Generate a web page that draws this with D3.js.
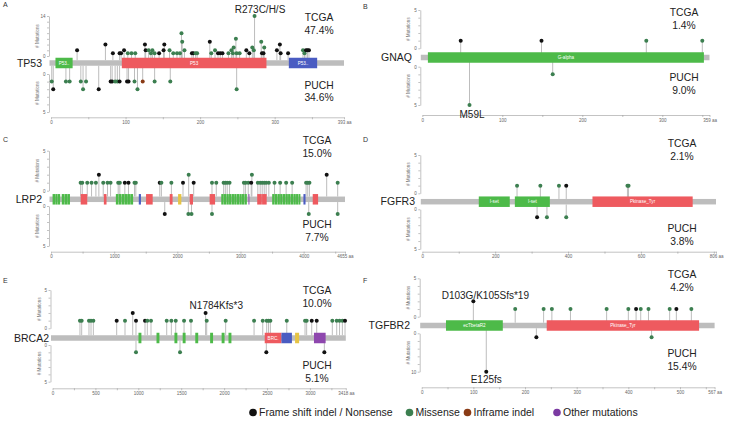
<!DOCTYPE html>
<html><head><meta charset="utf-8">
<script src="https://cdn.jsdelivr.net/npm/d3@7"></script>
<style>body{margin:0;background:#fff;} svg{display:block;font-family:"Liberation Sans",Arial,sans-serif;}</style>
</head><body><svg id="c" width="729" height="424"></svg>
<script>
// ---------------- DATA ----------------
const genes = ["TP53","GNAQ","LRP2","FGFR3","BRCA2","TGFBR2"];
const panelLetters = ["A","B","C","D","E","F"];
const proteinLengths = [393,359,4655,806,3418,567];
const tcgaPct = ["47.4%","1.4%","15.0%","2.1%","10.0%","4.2%"];
const puchPct = ["34.6%","9.0%","7.7%","3.8%","5.1%","15.4%"];
const topMax = [14,5,5,5,5,5];
const botMax = [5,5,5,5,5,10];
const xMajorStep = [100,100,1000,200,500,100];
const xMinorStep = [50,50,500,100,250,50];
const legendItems = ["Frame shift indel / Nonsense","Missense","Inframe indel","Other mutations"];
const legendTypes = ["T","M","I","O"];

// mutations: [position, count, type]  T=truncating, M=missense, I=inframe, O=other
const tp53Tcga = [[35,2,"T"],[73,4,"T"],[83,1,"T"],[92,1,"T"],[94,1,"T"],[98,2,"T"],[103,1,"M"],[108,1,"M"],[113,1,"M"],
 [126,4,"T"],[127,2,"T"],[131,2,"M"],[134,1,"M"],[136,2,"M"],[139,1,"M"],[145,1,"T"],[152,4,"T"],[151,2,"T"],[159,2,"M"],
 [164,1,"M"],[169,1,"M"],[173,1,"M"],[175,8,"M"],[176,5,"M"],[179,2,"M"],[189,1,"T"],[191,1,"T"],[194,1,"M"],[196,1,"M"],
 [213,5,"T"],[215,1,"M"],[220,2,"M"],[224,1,"T"],[227,1,"T"],[230,1,"T"],[238,1,"M"],[242,2,"M"],[244,1,"M"],[245,3,"M"],
 [248,6,"M"],[249,1,"M"],[253,1,"M"],[262,2,"T"],[266,1,"T"],[270,3,"M"],[272,2,"M"],[273,14,"M"],[282,5,"M"],[283,1,"T"],
 [285,1,"T"],[286,3,"M"],[303,2,"T"],[307,4,"T"],[308,1,"T"],[318,1,"T"],[338,2,"M"],[340,1,"M"],[342,2,"T"],[344,2,"T"],[346,2,"T"]];
const tp53Puch = [[1,1,"M"],[3,2,"T"],[20,1,"M"],[25,1,"M"],[40,1,"M"],[43,2,"M"],[47,1,"M"],[64,2,"T"],[80,1,"T"],[82,1,"T"],
 [86,1,"M"],[89,1,"M"],[92,1,"T"],[102,1,"T"],[104,1,"T"],[112,1,"M"],[116,2,"M"],[123,1,"I"],[139,1,"M"],[160,1,"M"],[249,2,"M"]];
const gnaqTcga = [[48,1,"T"],[149,1,"T"],[280,1,"M"],[350,1,"M"]];
const gnaqPuch = [[59,5,"M"],[163,1,"M"]];
const lrp2Tcga = [[469,1,"M"],[495,1,"M"],[574,1,"M"],[642,1,"M"],[711,1,"M"],[758,2,"T"],[827,1,"M"],[895,1,"M"],[943,1,"M"],
 [1064,1,"M"],[1090,1,"M"],[1169,1,"T"],[1227,1,"T"],[1322,1,"M"],[1343,1,"M"],[1722,1,"T"],[1748,1,"M"],[1906,1,"M"],
 [2090,1,"T"],[2180,2,"M"],[2259,1,"T"],[2549,1,"M"],[2617,1,"M"],[2733,1,"M"],[2760,1,"M"],[2790,1,"M"],[2827,1,"M"],
 [3054,1,"M"],[3081,1,"M"],[3123,1,"M"],[3170,1,"T"],[3181,2,"M"],[3275,1,"M"],[3312,1,"M"],[3344,1,"M"],[3376,1,"M"],
 [3407,1,"M"],[3449,1,"M"],[3539,1,"M"],[3628,1,"M"],[3723,1,"M"],[3818,1,"M"],[4039,1,"M"],[4065,1,"M"],[4092,1,"M"],
 [4365,2,"T"],[4539,1,"M"]];
const lrp2Puch = [[1801,1,"T"],[2175,1,"M"],[2225,1,"M"],[2549,1,"M"],[4081,1,"M"],[4539,1,"M"]];
const fgfr3Tcga = [[260,1,"M"],[324,1,"M"],[375,1,"M"],[395,1,"T"],[563,1,"M"],[566,1,"M"]];
const fgfr3Puch = [[315,1,"T"],[342,1,"M"],[395,1,"M"]];
const brca2Tcga = [[320,1,"M"],[340,1,"M"],[425,1,"M"],[449,1,"M"],[476,1,"M"],[748,1,"T"],[845,1,"M"],[935,2,"T"],[973,1,"T"],
 [1078,1,"T"],[1105,1,"M"],[1148,1,"M"],[1331,1,"M"],[1385,1,"M"],[1436,1,"M"],[1533,1,"M"],[1614,1,"M"],[1784,2,"T"],
 [1797,1,"M"],[2018,1,"M"],[2349,1,"M"],[2450,1,"M"],[2496,1,"M"],[2517,1,"M"],[2539,1,"M"],[2730,1,"M"],[2943,1,"M"],
 [2962,1,"M"],[3021,1,"T"],[3079,1,"T"],[3261,1,"M"],[3312,1,"M"],[3345,1,"M"],[3378,1,"M"],[3409,1,"T"]];
const brca2Puch = [[973,1,"M"],[1486,1,"M"],[2492,1,"T"],[3168,1,"T"]];
const tgfbr2Tcga = [[100,2,"T"],[181,1,"M"],[236,1,"M"],[252,1,"M"],[288,1,"M"],[358,1,"M"],[400,1,"M"],[415,1,"T"],
 [424,1,"M"],[439,1,"M"],[480,1,"M"],[493,1,"T"],[522,1,"M"]];
const tgfbr2Puch = [[125,10,"T"],[222,1,"T"],[445,1,"M"]];

// domains: [start, end, colour key, label]
const tp53Domains = [[6,29,"g","P53.."],[95,289,"r","P53"],[319,357,"b","P53.."]];
const gnaqDomains = [[7,352,"g","G-alpha"]];
const lrp2Domains = [[25,65,"g",""],[68,105,"g",""],[108,145,"g",""],[170,210,"g",""],[213,255,"g",""],[258,300,"g",""],
 [470,574,"r",""],[837,879,"r",""],
 [1027,1068,"g",""],[1072,1113,"g",""],[1117,1158,"g",""],[1162,1203,"g",""],[1207,1250,"g",""],[1255,1300,"g",""],
 [1390,1424,"b",""],[1505,1610,"r",""],[1880,1925,"r",""],[2012,2064,"y",""],[2196,2248,"r",""],[2512,2598,"r",""],
 [2696,2733,"g",""],[2737,2774,"g",""],[2778,2815,"g",""],[2819,2856,"g",""],[2860,2897,"g",""],[2901,2938,"g",""],
 [2942,2979,"g",""],[2983,3020,"g",""],[3024,3061,"g",""],[3065,3101,"g",""],
 [3126,3142,"p",""],[3265,3338,"r",""],[3342,3415,"r",""],
 [3502,3540,"g",""],[3544,3582,"g",""],[3586,3624,"g",""],[3628,3666,"g",""],[3670,3708,"g",""],[3712,3750,"g",""],
 [3754,3792,"g",""],[3796,3834,"g",""],[3838,3876,"g",""],[3880,3918,"g",""],[3922,3949,"g",""],
 [3997,4030,"b",""],[4144,4229,"r",""]];
const fgfr3Domains = [[155,240,"g","I-set"],[254,350,"g","I-set"],[467,742,"r","Pkinase_Tyr"]];
const brca2Domains = [[1002,1036,"g",""],[1212,1246,"g",""],[1421,1455,"g",""],[1517,1551,"g",""],[1664,1698,"g",""],
 [1837,1871,"g",""],[1971,2005,"g",""],[2051,2085,"g",""],[2473,2668,"r","BRC."],[2668,2790,"b",""],[2827,2874,"y",""],[3047,3183,"p",""]];
const tgfbr2Domains = [[47,157,"g","ecTbetaR2"],[242,537,"r","Pkinase_Tyr"]];

// annotations: [panel, side, position, text]
const annotations = [[0,"top",273,"R273C/H/S"],[1,"bottom",59,"M59L"],[4,"top",1784,"N1784Kfs*3"],
 [5,"top",100,"D103G/K105Sfs*19"],[5,"bottom",125,"E125fs"]];

const tcgaSets = [tp53Tcga,gnaqTcga,lrp2Tcga,fgfr3Tcga,brca2Tcga,tgfbr2Tcga];
const puchSets = [tp53Puch,gnaqPuch,lrp2Puch,fgfr3Puch,brca2Puch,tgfbr2Puch];
const domainSets = [tp53Domains,gnaqDomains,lrp2Domains,fgfr3Domains,brca2Domains,tgfbr2Domains];

// ---------------- LAYOUT / STYLE ----------------
const layout = [
 {x0:51, x1:344, bb:63, t0:56, tM:16, b0:74, bM:112, axisY:117.3, geneX:42, lblX:319, tcgaY:21, puchY:88.5, lx:3, ly:7},
 {x0:422.3, x1:709.5, bb:57.5, t0:48.3, tM:10, b0:66.7, bM:105, axisY:115, geneX:412, lblX:684, tcgaY:16, puchY:81, lx:363, ly:8.5},
 {x0:51, x1:345, bb:199.3, t0:190.7, tM:150.7, b0:206, bM:246, axisY:251.7, geneX:42, lblX:317, tcgaY:144, puchY:228.3, lx:3, ly:142},
 {x0:422.3, x1:716, bb:201.7, t0:193.3, tM:155, b0:209.3, bM:249, axisY:251.7, geneX:415, lblX:682, tcgaY:146.7, puchY:231.7, lx:363, ly:142},
 {x0:52.5, x1:345.8, bb:338, t0:328.3, tM:290, b0:345, bM:381.7, axisY:388.3, geneX:49, lblX:317, tcgaY:294, puchY:369.3, lx:3, ly:283},
 {x0:421.7, x1:714.6, bb:325.5, t0:316.7, tM:278.3, b0:333.3, bM:371.7, axisY:387.3, geneX:410, lblX:682, tcgaY:278, puchY:356.7, lx:363, ly:283}
];
const annOffsets = [[5.5,-3.2],[2.5,13.3],[10.7,-3.7],[12,-2.4],[0,11]];
const domainColors = {g:"#4dba49", r:"#ee5a5f", b:"#4a5cc2", y:"#e6c445", p:"#8e47ae"};
const mutColors = {T:"#111111", M:"#3c7f50", I:"#8a3b16", O:"#7b3aa2"};
const bbH = 5.5, domH = 10.5, dotR = 2;

const svg = d3.select("#c");

genes.forEach((gene,i)=>{
  const L = layout[i];
  const len = proteinLengths[i];
  const g = svg.append("g");
  const x = d3.scaleLinear().domain([0,len]).range([L.x0,L.x1]);
  const yT = d3.scaleLinear().domain([0,topMax[i]]).range([L.t0,L.tM]);
  const yB = d3.scaleLinear().domain([0,botMax[i]]).range([L.b0,L.bM]);

  // panel letter
  g.append("text").attr("x",L.lx).attr("y",L.ly).attr("font-size",7).attr("fill","#333").text(panelLetters[i]);

  // y axes
  const styleAxis = sel => {
    sel.selectAll("path,line").attr("stroke","#9a9a9a").attr("stroke-width",0.6);
    sel.selectAll("text").attr("fill","#666").attr("font-size",4.5).attr("font-family","Liberation Sans, Arial, sans-serif");
  };
  [[yT,topMax[i]],[yB,botMax[i]]].forEach(([ys,mx])=>{
    const step = mx>5 ? 2 : 1;
    const ax = d3.axisLeft(ys).tickValues(d3.range(0,mx+1,step)).tickSize(2).tickSizeOuter(0).tickPadding(1.5)
      .tickFormat(d => (d===0||d===mx) ? d : "");
    const ga = g.append("g").attr("transform",`translate(${L.x0-2},0)`).call(ax);
    styleAxis(ga);
    const mid = (ys(0)+ys(mx))/2;
    g.append("text").attr("transform",`translate(${L.x0-12},${mid}) rotate(-90)`).attr("text-anchor","middle")
      .attr("font-size",4.6).attr("fill","#777").text("# Mutations");
  });

  // x axis
  const ticks = d3.range(0,len,xMinorStep[i]).concat([len]);
  const xa = d3.axisBottom(x).tickValues(ticks).tickSize(2).tickSizeOuter(0).tickPadding(1.5)
    .tickFormat(d => d===len ? len+" aa" : ((d % xMajorStep[i]===0 && len-d > xMajorStep[i]*0.3) ? d : ""));
  const gx = g.append("g").attr("transform",`translate(0,${L.axisY})`).call(xa);
  styleAxis(gx);

  // stems
  const top = tcgaSets[i], bot = puchSets[i];
  g.selectAll(null).data(top).enter().append("line")
    .attr("x1",d=>x(d[0])).attr("x2",d=>x(d[0])).attr("y1",L.bb-bbH/2).attr("y2",d=>yT(d[1]))
    .attr("stroke","#b5b5b5").attr("stroke-width",0.9);
  g.selectAll(null).data(bot).enter().append("line")
    .attr("x1",d=>x(d[0])).attr("x2",d=>x(d[0])).attr("y1",L.bb+bbH/2).attr("y2",d=>yB(d[1]))
    .attr("stroke","#b5b5b5").attr("stroke-width",0.9);

  // backbone + domains
  g.append("rect").attr("x",x(0)-1.5).attr("y",L.bb-bbH/2).attr("width",x(len)-x(0)+1.5).attr("height",bbH).attr("fill","#bdbdbd");
  g.selectAll(null).data(domainSets[i]).enter().append("rect")
    .attr("x",d=>x(d[0])).attr("y",L.bb-domH/2).attr("width",d=>Math.max(1,x(d[1])-x(d[0]))).attr("height",domH)
    .attr("fill",d=>domainColors[d[2]]);
  g.selectAll(null).data(domainSets[i].filter(d=>d[3])).enter().append("text")
    .attr("x",d=>(x(d[0])+x(d[1]))/2).attr("y",L.bb+1.6).attr("text-anchor","middle")
    .attr("font-size",4.6).attr("fill","#fff").text(d=>d[3]);

  // dots
  g.selectAll(null).data(top).enter().append("circle")
    .attr("cx",d=>x(d[0])).attr("cy",d=>yT(d[1])).attr("r",dotR).attr("fill",d=>mutColors[d[2]]);
  g.selectAll(null).data(bot).enter().append("circle")
    .attr("cx",d=>x(d[0])).attr("cy",d=>yB(d[1])).attr("r",dotR).attr("fill",d=>mutColors[d[2]]);

  // gene name
  g.append("text").attr("x",L.geneX).attr("y",L.bb+3.7).attr("text-anchor","end").attr("font-size",10.5).attr("fill","#222").text(gene);

  // cohort labels
  const lab = (txt,y)=>g.append("text").attr("x",L.lblX).attr("y",y).attr("text-anchor","middle").attr("font-size",10.3).attr("fill","#222").text(txt);
  lab("TCGA",L.tcgaY); lab(tcgaPct[i],L.tcgaY+12.8);
  lab("PUCH",L.puchY); lab(puchPct[i],L.puchY+12.8);

  // annotations
  annotations.forEach((a,k)=>{
    if(a[0]!==i) return;
    const set = a[1]==="top" ? top : bot;
    const m = set.find(d=>d[0]===a[2]);
    const cy = a[1]==="top" ? yT(m[1]) : yB(m[1]);
    g.append("text").attr("x",x(a[2])+annOffsets[k][0]).attr("y",cy+annOffsets[k][1]).attr("text-anchor","middle")
      .attr("font-size",10).attr("fill","#222").text(a[3]);
  });
});

// legend
const legX = [253,409.5,467.5,557];
const lg = svg.append("g");
legendItems.forEach((t,k)=>{
  lg.append("circle").attr("cx",legX[k]).attr("cy",412.5).attr("r",3.8).attr("fill",mutColors[legendTypes[k]]);
  lg.append("text").attr("x",legX[k]+6).attr("y",416.3).attr("font-size",10.5).attr("fill","#222").text(t);
});
</script></body></html>
